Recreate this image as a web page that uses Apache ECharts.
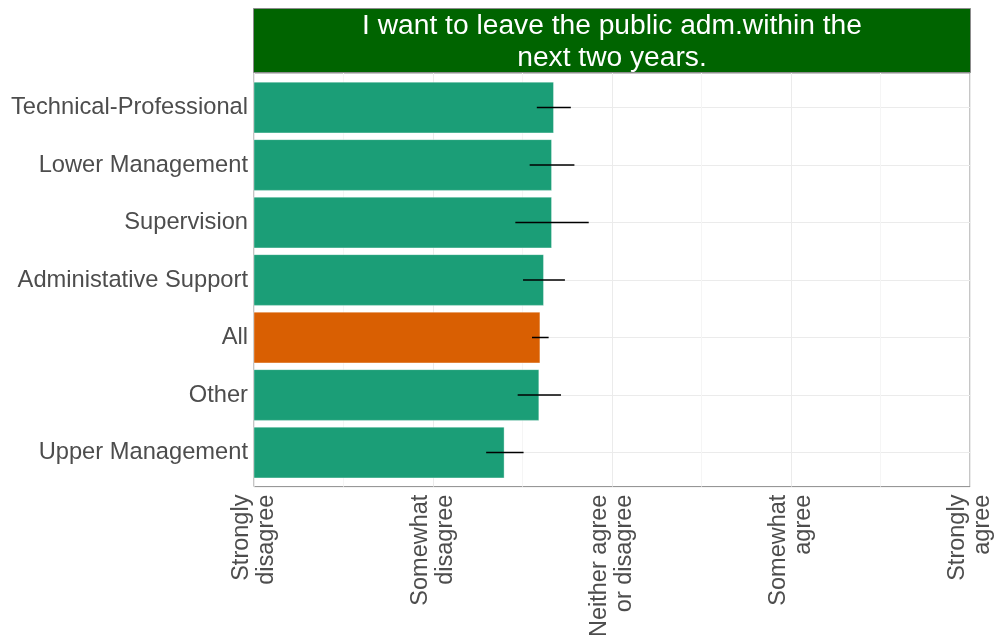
<!DOCTYPE html>
<html>
<head>
<meta charset="utf-8">
<script src="https://cdn.jsdelivr.net/npm/echarts@6/dist/echarts.min.js"></script>
<style>
html,body{margin:0;padding:0;background:#fff;}
#chart{width:1001px;height:640px;}
</style>
</head>
<body>
<div id="chart"></div>
<script>
const categories = ["Technical-Professional","Lower Management","Supervision","Administative Support","All","Other","Upper Management"];
const means = [2.676, 2.665, 2.665, 2.62, 2.60, 2.594, 2.40];
const lower = [2.58, 2.54, 2.46, 2.503, 2.553, 2.473, 2.297];
const upper = [2.77, 2.79, 2.87, 2.737, 2.646, 2.715, 2.506];
const tickLabels = ["Strongly\ndisagree","Somewhat\ndisagree","Neither agree\nor disagree","Somewhat\nagree","Strongly\nagree"];
const titleText = "I want to leave the public adm.within the\nnext two years.";
const highlight = "All";

const GREEN = "#1b9e77", ORANGE = "#d95f02", TXT = "#4d4d4d";
const FONT = "'Liberation Sans', Arial, sans-serif";

// panel geometry (ggplot-like discrete expansion of 0.6 units)
const PL = 254, PR = 970, PT = 73, PB = 487, W = 1001, H = 640;
const n = categories.length;
const unit = (PB - PT) / (n - 1 + 1.2);

const chart = echarts.init(document.getElementById('chart'));
const barData = categories.map((c, i) => ({
  value: means[i],
  itemStyle: { color: c === highlight ? ORANGE : GREEN }
}));
const errData = categories.map((c, i) => [i, lower[i], upper[i]]);

const hiddenX = (idx) => ({ type: 'value', gridIndex: idx, min: 1, max: 5, interval: 1, show: false, splitLine: { show: false } });

chart.setOption({
  animation: false,
  textStyle: { fontFamily: FONT },
  grid: [
    { left: PL, right: W - PR, top: PT, bottom: H - PB, show: true, borderColor: '#8c8c8c', borderWidth: 1, backgroundColor: 'transparent' },
    { left: PL, right: W - PR, top: PT + 0.6 * unit, bottom: H - (PB - 0.6 * unit) },
    { left: PL, right: W - PR, top: PT + 0.1 * unit, bottom: H - (PB - 0.1 * unit) }
  ],
  graphic: [
    { type: 'rect', shape: { x: 253.5, y: 8.5, width: 717, height: 64 }, style: { fill: '#006400', stroke: '#8c8c8c', lineWidth: 1 } },
    { type: 'text', x: 612, y: 42, style: { text: titleText, fill: '#ffffff', font: "28.2px " + FONT, align: 'center', verticalAlign: 'middle', lineHeight: 32 } }
  ],
  xAxis: [
    {
      type: 'value', gridIndex: 0, min: 1, max: 5, interval: 1,
      axisLine: { show: false }, axisTick: { show: false },
      splitLine: { show: true, lineStyle: { color: '#ebebeb', width: 1 } },
      minorTick: { show: false, splitNumber: 2 },
      minorSplitLine: { show: true, lineStyle: { color: '#f5f5f5', width: 1 } },
      axisLabel: {
        rotate: 90, margin: 8, fontSize: 23.5, lineHeight: 25, color: TXT, fontFamily: FONT,
        formatter: v => tickLabels[Math.round(v) - 1] || ''
      }
    },
    hiddenX(1),
    hiddenX(2)
  ],
  yAxis: [
    { type: 'value', gridIndex: 0, show: false, splitLine: { show: false } },
    {
      type: 'category', gridIndex: 1, data: categories, inverse: true, boundaryGap: false,
      axisLine: { show: false }, axisTick: { show: false }, axisLabel: { show: false },
      splitLine: { show: true, lineStyle: { color: '#ebebeb', width: 1 } }
    },
    {
      type: 'category', gridIndex: 2, data: categories, inverse: true,
      axisLine: { show: false }, axisTick: { show: false }, splitLine: { show: false },
      axisLabel: { fontSize: 23.7, color: TXT, margin: 6, fontFamily: FONT }
    }
  ],
  series: [
    {
      type: 'bar', xAxisIndex: 2, yAxisIndex: 2, data: barData, barCategoryGap: '10%', clip: true,
      itemStyle: { borderColor: 'rgba(255,255,255,0.35)', borderWidth: 1 }
    },
    {
      type: 'custom', xAxisIndex: 2, yAxisIndex: 2, data: errData, z: 10, clip: false,
      encode: { x: [1, 2], y: 0 },
      renderItem: function (params, api) {
        const y = api.value(0);
        const p1 = api.coord([api.value(1), y]);
        const p2 = api.coord([api.value(2), y]);
        return { type: 'line', shape: { x1: p1[0], y1: p1[1], x2: p2[0], y2: p2[1] }, style: { stroke: '#000', lineWidth: 1.5 } };
      }
    }
  ]
});
</script>
</body>
</html>
